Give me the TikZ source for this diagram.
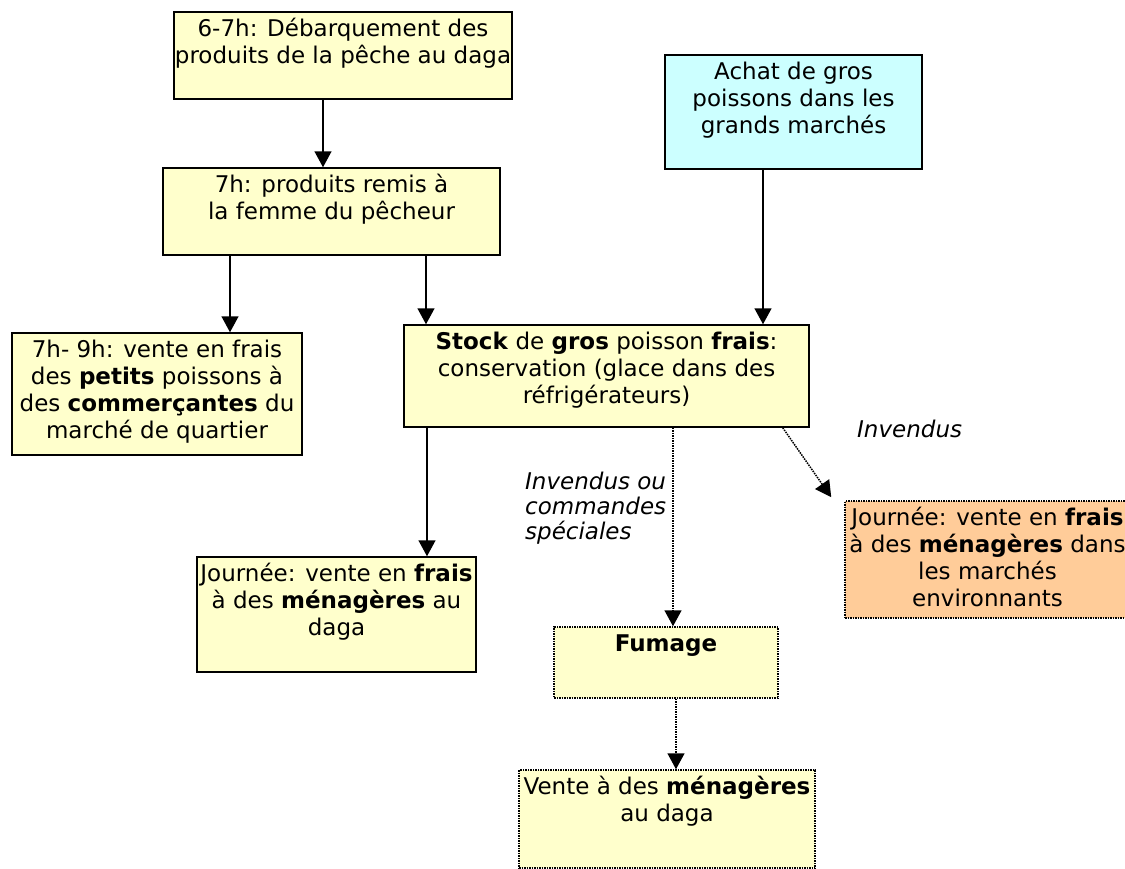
\documentclass[tikz,border=0pt]{standalone}
\usepackage{fontspec}
\setmainfont{DejaVu Sans}
\usetikzlibrary{%
  arrows.meta,%
  positioning%
}
\definecolor{paleyellow}{HTML}{FFFFCC}
\definecolor{palecyan}{HTML}{CCFFFF}
\definecolor{paleorange}{HTML}{FFCC99}
\newcommand{\boxtext}[3]{\parbox[c][#2][t]{#1}{\centering\vspace*{6pt}\strut#3\par}}

\begin{document}
\begin{tikzpicture}[x=1pt,y=-1pt,
    font=\fontsize{23}{27}\selectfont,
    etape/.style={draw,line width=1.5pt,fill=paleyellow,inner sep=0pt},
    etapept/.style={etape,densely dotted},
    fleche/.style={-{Triangle[length=16pt,width=17pt]},line width=1.5pt},
    flechept/.style={fleche,densely dotted},
    remarque/.style={font=\fontsize{23}{25}\selectfont\itshape,inner sep=0pt}]
    \useasboundingbox (0,0) rectangle (1125,868);

    %daga, matin
    \node[etape] (debarq) at (343,55.5) {\boxtext{338pt}{87pt}{6-7h: Débarquement des\\produits de la pêche au daga}};
    \node[etape] (remise) at (331.5,211.5) {\boxtext{337pt}{87pt}{7h: produits remis à\\la femme du pêcheur}};
    \node[etape] (petits) at (157,394) {\boxtext{290pt}{122pt}{7h- 9h: vente en frais\\des \textbf{petits} poissons à\\des \textbf{commerçantes} du\\marché de quartier}};

    %grands marches
    \node[etape,fill=palecyan] (achat) at (793.5,112) {\boxtext{257pt}{114pt}{Achat de gros\\poissons dans les\\grands marchés}};

    %stock
    \node[etape] (stock) at (606.5,376) {\boxtext{405pt}{102pt}{\textbf{Stock} de \textbf{gros} poisson \textbf{frais}:\\conservation (glace dans des\\réfrigérateurs)}};
    \node[etape] (journee) at (336.5,614.5) {\boxtext{279pt}{115pt}{Journée: vente en \textbf{frais}\\à des \textbf{ménagères} au\\daga}};
    \node[etapept,fill=paleorange] (environ) at (987.5,559.5) {\boxtext{285pt}{117pt}{Journée: vente en \textbf{frais}\\à des \textbf{ménagères} dans\\les marchés\\environnants}};

    %invendus
    \node[etapept] (fumage) at (666,662.5) {\boxtext{224pt}{71pt}{\textbf{Fumage}}};
    \node[etapept] (vente) at (667,819) {\boxtext{296pt}{98pt}{Vente à des \textbf{ménagères}\\au daga}};

    \node[remarque,anchor=west] (invendus) at (857,429) {Invendus};
    \node[remarque,anchor=north west,align=left] (commandes) at (525,472) {Invendus ou\\commandes\\spéciales};

    %fleches pleines
    \draw[fleche] ([xshift=-20pt]debarq.south) -- ([xshift=-20pt]debarq.south |- remise.north);
    \draw[fleche] ([xshift=-101.5pt]remise.south) -- ([xshift=-101.5pt]remise.south |- petits.north);
    \draw[fleche] ([xshift=94.5pt]remise.south) -- ([xshift=94.5pt]remise.south |- stock.north);
    \draw[fleche] ([xshift=-30.5pt]achat.south) -- ([xshift=-30.5pt]achat.south |- stock.north);
    \draw[fleche] ([xshift=-179.5pt]stock.south) -- ([xshift=-179.5pt]stock.south |- journee.north);

    %fleches pointillees
    \draw[flechept] ([xshift=66.5pt]stock.south) -- ([xshift=66.5pt]stock.south |- fumage.north);
    \draw[flechept] ([xshift=-27pt]stock.south east) -- ([xshift=-13pt,yshift=3pt]environ.north west);
    \draw[flechept] ([xshift=10pt]fumage.south) -- ([xshift=10pt]fumage.south |- vente.north);

\end{tikzpicture}
\end{document}
